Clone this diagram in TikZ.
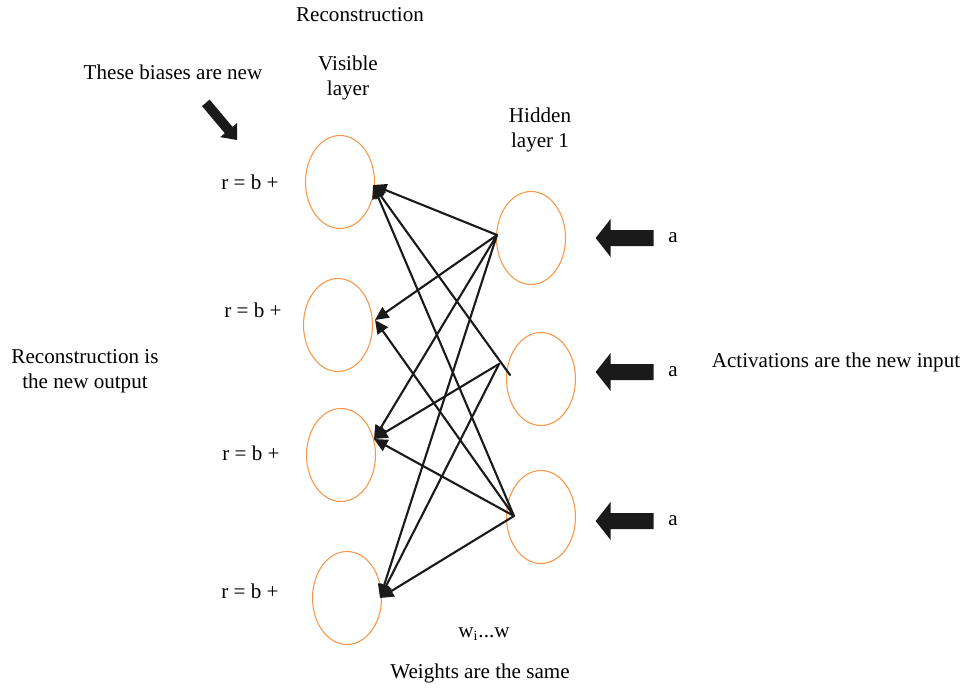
\documentclass[tikz,border=0pt]{standalone}
\usepackage{fontspec}
\setmainfont{Liberation Serif}
\usetikzlibrary{arrows.meta,shapes.geometric}
\definecolor{neuronorange}{RGB}{247,150,70}
\definecolor{arrowblack}{RGB}{26,26,26}

\begin{document}
\begin{tikzpicture}[line cap = round, line join = round, >={Triangle[length=0.27cm,width=0.25cm]},
		neuron/.style={ellipse, draw=neuronorange, semithick, minimum width=1.38cm, minimum height=1.86cm, inner sep=0pt},
		txt/.style={font=\fontsize{12}{14.2}\selectfont, align=center},
		weight/.style={->, line width=1.2pt, arrowblack}]
		\useasboundingbox (0,0) rectangle (19.32,13.76);
		%\draw[red] (0,0) grid (19,13);

		% headings
		\node [txt] (title) at (7.20,13.46) {Reconstruction};
		\node [txt] (biasnote) at (3.46,12.32) {These biases are new};
		\node [txt] (vislayer) at (6.96,12.20) {Visible\\layer};
		\node [txt] (hidlayer) at (10.80,11.16) {Hidden\\layer 1};

		% Visible layer
		\node [neuron] (v1) at (6.80,10.12) {};
		\node [neuron] (v2) at (6.76,7.26) {};
		\node [neuron] (v3) at (6.82,4.66) {};
		\node [neuron] (v4) at (6.94,1.80) {};
		\node [txt] (r1) at (5.00,10.12) {r = b +};
		\node [txt] (r2) at (5.06,7.56) {r = b +};
		\node [txt] (r3) at (5.02,4.70) {r = b +};
		\node [txt] (r4) at (5.00,1.94) {r = b +};

		% Hidden layer 1
		\node [neuron] (h1) at (10.62,9.00) {};
		\node [neuron] (h2) at (10.82,6.18) {};
		\node [neuron] (h3) at (10.82,3.42) {};
		\node [txt] (a1) at (13.46,9.00) {a};
		\node [txt] (a2) at (13.46,6.32) {a};
		\node [txt] (a3) at (13.46,3.34) {a};

		% where the weights meet the neurons
		\coordinate (v1in) at (7.46,10.06);
		\coordinate (v2in) at (7.50,7.36);
		\coordinate (v3in) at (7.48,4.98);
		\coordinate (v4in) at (7.60,1.80);
		\coordinate (h1out) at (9.94,9.06);
		\coordinate (h2out) at (10.20,6.26);
		\coordinate (h2outb) at (9.98,6.48);
		\coordinate (h3out) at (10.28,3.44);

		% weights back to the visible layer
		\draw [weight] (h1out) -- (v1in);
		\draw [weight] (h1out) -- (v2in);
		\draw [weight] (h1out) -- (v3in);
		\draw [weight] (h1out) -- (v4in);
		\draw [weight] (h2out) -- (v1in);
		\draw [weight] (h2outb) -- (v3in);
		\draw [weight] (h2outb) -- (v4in);
		\draw [weight] (h3out) -- (v1in);
		\draw [weight] (h3out) -- (v2in);
		\draw [weight] (h3out) -- (v3in);
		\draw [weight] (h3out) -- (v4in);

		% block arrows
		\begin{scope}[shift={(4.74,10.96)}, rotate=-50]
			\fill [arrowblack] (0,0) -- (-0.26,0.22) -- (-0.26,0.10) -- (-0.97,0.10) -- (-0.97,-0.10) -- (-0.26,-0.10) -- (-0.26,-0.22) -- cycle;
		\end{scope}
		\fill [arrowblack] ([xshift=-0.17cm]a1.west) -- ++(0,0.16) -- ++(-0.86,0) -- ++(0,0.22) -- ++(-0.30,-0.38) -- ++(0.30,-0.38) -- ++(0,0.22) -- ++(0.86,0) -- cycle;
		\fill [arrowblack] ([xshift=-0.17cm]a2.west) -- ++(0,0.16) -- ++(-0.86,0) -- ++(0,0.22) -- ++(-0.30,-0.38) -- ++(0.30,-0.38) -- ++(0,0.22) -- ++(0.86,0) -- cycle;
		\fill [arrowblack] ([xshift=-0.17cm]a3.west) -- ++(0,0.16) -- ++(-0.86,0) -- ++(0,0.22) -- ++(-0.30,-0.38) -- ++(0.30,-0.38) -- ++(0,0.22) -- ++(0.86,0) -- cycle;

		% side and bottom notes
		\node [txt] (outnote) at (1.70,6.34) {Reconstruction is\\the new output};
		\node [txt] (innote) at (16.72,6.52) {Activations are the new input};
		\node [txt] (wnote) at (9.68,1.08) {w\textsubscript{i}...w};
		\node [txt] (samenote) at (9.60,0.30) {Weights are the same};
	\end{tikzpicture}
\end{document}
